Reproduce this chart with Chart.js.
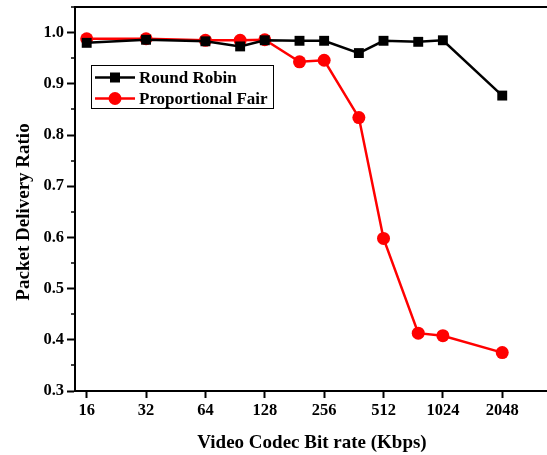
<!DOCTYPE html>
<html>
<head>
<meta charset="utf-8">
<script src="https://cdn.jsdelivr.net/npm/chart.js@4/dist/chart.umd.min.js"></script>
<style>
html,body{margin:0;padding:0;background:#fff;}
#wrap{width:547px;height:455px;position:relative;}
</style>
</head>
<body>
<div id="wrap"><canvas id="c" width="547" height="455"></canvas></div>
<script>
const bitrates = [16, 32, 64, 96, 128, 192, 256, 384, 512, 768, 1024, 2048];
const roundRobin = [0.980, 0.986, 0.983, 0.973, 0.985, 0.984, 0.984, 0.960, 0.984, 0.982, 0.985, 0.877];
const propFair = [0.988, 0.988, 0.985, 0.985, 0.986, 0.943, 0.946, 0.834, 0.598, 0.413, 0.408, 0.375];
const xTickLabels = [16, 32, 64, 128, 256, 512, 1024, 2048];
const yTickValues = [0.3, 0.4, 0.5, 0.6, 0.7, 0.8, 0.9, 1.0];
const seriesNames = ['Round Robin', 'Proportional Fair'];
const xTitle = 'Video Codec Bit rate (Kbps)';
const yTitle = 'Packet Delivery Ratio';

const FONT = '"Liberation Serif", "Times New Roman", serif';

const toPts = vals => bitrates.map((b, i) => ({x: Math.log2(b), y: vals[i]}));

const framePlugin = {
  id: 'frame',
  afterDraw(chart) {
    const {ctx, chartArea: a, scales} = chart;
    ctx.save();
    ctx.strokeStyle = '#000';
    ctx.lineWidth = 2;
    ctx.beginPath();
    ctx.moveTo(a.left, a.top); ctx.lineTo(a.right, a.top);
    ctx.stroke();
    // minor y ticks
    ctx.lineWidth = 1.5;
    const y = scales.y;
    for (let v = 0.35; v < 1.05; v += 0.1) {
      const p = Math.round(y.getPixelForValue(v));
      ctx.beginPath();
      ctx.moveTo(a.left - 4, p); ctx.lineTo(a.left, p);
      ctx.stroke();
    }
    // axis titles
    ctx.fillStyle = '#000';
    ctx.font = 'bold 19px ' + FONT;
    ctx.textAlign = 'center';
    ctx.textBaseline = 'middle';
    ctx.fillText(xTitle, 312, 443);
    ctx.save();
    ctx.translate(24, 212);
    ctx.rotate(-Math.PI / 2);
    ctx.fillText(yTitle, 0, 0);
    ctx.restore();
    // legend
    const bx = 91.5, by = 65.5, bw = 182, bh = 43;
    ctx.lineWidth = 1;
    ctx.strokeStyle = '#000';
    ctx.fillStyle = '#fff';
    ctx.fillRect(bx, by, bw, bh);
    ctx.strokeRect(bx, by, bw, bh);
    const rows = [
      {name: seriesNames[0], color: '#000', y: 77.5, shape: 'sq'},
      {name: seriesNames[1], color: '#ff0000', y: 98.5, shape: 'ci'}
    ];
    ctx.font = 'bold 17px ' + FONT;
    ctx.textAlign = 'left';
    ctx.textBaseline = 'middle';
    rows.forEach(r => {
      ctx.strokeStyle = r.color;
      ctx.fillStyle = r.color;
      ctx.lineWidth = 2.5;
      ctx.beginPath();
      ctx.moveTo(95, r.y); ctx.lineTo(135, r.y);
      ctx.stroke();
      if (r.shape === 'sq') {
        ctx.fillRect(110, r.y - 5, 10, 10);
      } else {
        ctx.beginPath(); ctx.arc(115, r.y, 6.5, 0, Math.PI * 2); ctx.fill();
      }
      ctx.fillStyle = '#000';
      ctx.fillText(r.name, 139, r.y + 1);
    });
    ctx.restore();
  }
};

new Chart(document.getElementById('c'), {
  type: 'line',
  data: {
    datasets: [
      {
        label: seriesNames[0], data: toPts(roundRobin),
        borderColor: '#000', backgroundColor: '#000', borderWidth: 2.5,
        pointStyle: 'rect', pointRadius: 7, pointHoverRadius: 7,
        pointBorderWidth: 0, tension: 0
      },
      {
        label: seriesNames[1], data: toPts(propFair),
        borderColor: '#ff0000', backgroundColor: '#ff0000', borderWidth: 2.5,
        pointStyle: 'circle', pointRadius: 6.5, pointHoverRadius: 6.5,
        pointBorderWidth: 0, tension: 0
      }
    ]
  },
  options: {
    responsive: false,
    animation: false,
    events: [],
    layout: {autoPadding: false, padding: {top: 7, right: 0, left: 0, bottom: 0}},
    plugins: {legend: {display: false}, tooltip: {enabled: false}},
    scales: {
      x: {
        type: 'linear',
        min: Math.log2(16) - 0.197,
        max: Math.log2(2048) + 0.754,
        afterBuildTicks: s => { s.ticks = xTickLabels.map(v => ({value: Math.log2(v)})); },
        afterFit: s => { s.height = 64; s.paddingLeft = 0; s.paddingRight = 0; },
        ticks: {
          callback: (v, i) => String(xTickLabels[i]),
          color: '#000', font: {family: FONT, size: 16.5, weight: 'bold'},
          padding: 3, maxRotation: 0, autoSkip: false
        },
        grid: {drawOnChartArea: false, tickLength: 7, tickWidth: 2, tickColor: '#000'},
        border: {display: true, color: '#000', width: 2}
      },
      y: {
        type: 'linear',
        min: 0.3, max: 1.05,
        afterBuildTicks: s => { s.ticks = yTickValues.map(v => ({value: v})); },
        afterFit: s => { s.width = 75; s.paddingTop = 0; s.paddingBottom = 0; },
        ticks: {
          callback: v => v.toFixed(1),
          color: '#000', font: {family: FONT, size: 16.5, weight: 'bold'},
          padding: 3
        },
        grid: {drawOnChartArea: false, tickLength: 8, tickWidth: 2, tickColor: '#000'},
        border: {display: true, color: '#000', width: 2}
      }
    }
  },
  plugins: [framePlugin]
});
</script>
</body>
</html>
